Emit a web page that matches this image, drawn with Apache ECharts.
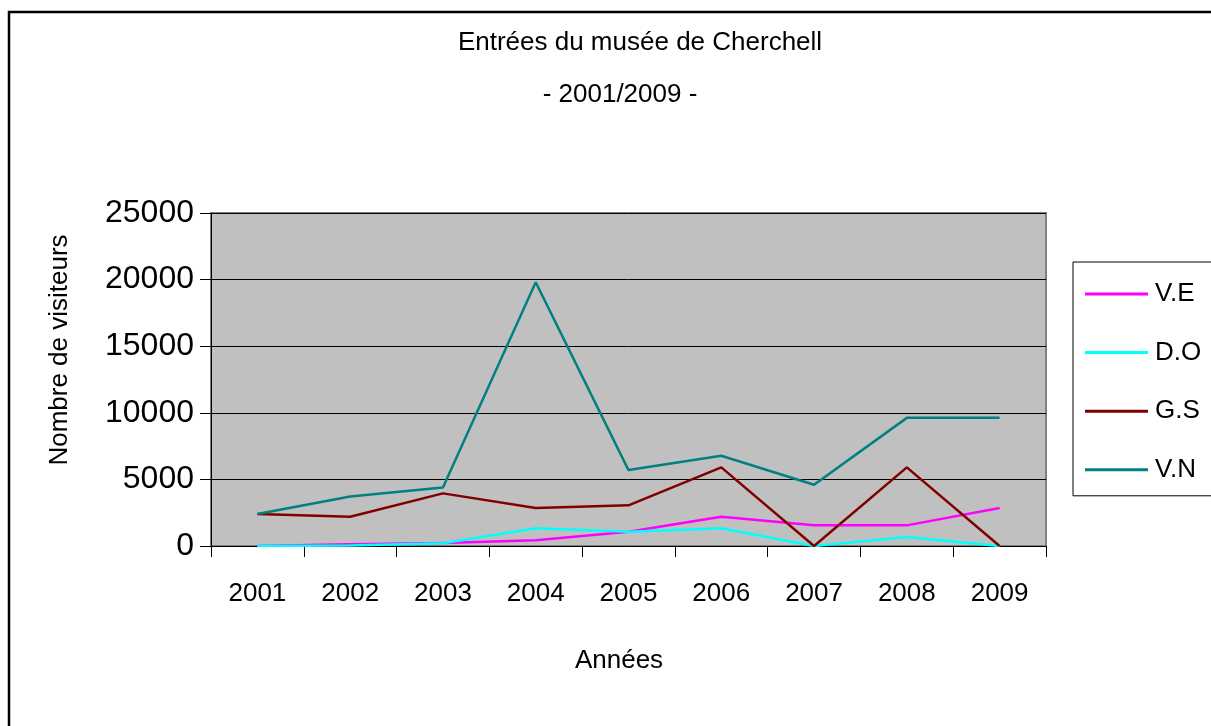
<!DOCTYPE html>
<html>
<head>
<meta charset="utf-8">
<script src="https://cdn.jsdelivr.net/npm/echarts@6/dist/echarts.min.js"></script>
<style>
  html, body { margin: 0; padding: 0; background: #fff; }
  #chart { width: 1211px; height: 726px; }
</style>
</head>
<body>
<div id="chart"></div>
<script>
const years = ['2001', '2002', '2003', '2004', '2005', '2006', '2007', '2008', '2009'];
const seriesNames = ['V.E', 'D.O', 'G.S', 'V.N'];
const colors = ['#ff00ff', '#00ffff', '#800000', '#008080'];
const valuesVE = [0, 130, 230, 430, 1070, 2200, 1550, 1550, 2850];
const valuesDO = [0, 30, 200, 1330, 1070, 1330, 0, 680, 0];
const valuesGS = [2400, 2200, 3950, 2850, 3050, 5900, 0, 5900, 0];
const valuesVN = [2400, 3720, 4400, 19800, 5700, 6780, 4600, 9620, 9620];
const allValues = [valuesVE, valuesDO, valuesGS, valuesVN];

const font = 'Liberation Sans, Arial, sans-serif';
const chart = echarts.init(document.getElementById('chart'));

chart.setOption({
  backgroundColor: '#fff',
  animation: false,
  textStyle: { fontFamily: font, color: '#000' },
  graphic: [
    {
      type: 'rect',
      shape: { x: 9, y: 12, width: 1400, height: 900 },
      style: { fill: 'none', stroke: '#000', lineWidth: 2.5 },
      silent: true
    },
    {
      type: 'text',
      x: 640, y: 43,
      style: { text: 'Entrées du musée de Cherchell', font: '26px ' + font, fill: '#000', align: 'center', verticalAlign: 'middle' }
    },
    {
      type: 'text',
      x: 620, y: 95,
      style: { text: '- 2001/2009 -', font: '26px ' + font, fill: '#000', align: 'center', verticalAlign: 'middle' }
    },
    {
      type: 'text',
      x: 60, y: 350,
      rotation: Math.PI / 2,
      style: { text: 'Nombre de visiteurs', font: '26px ' + font, fill: '#000', align: 'center', verticalAlign: 'middle' }
    },
    {
      type: 'text',
      x: 619, y: 661,
      style: { text: 'Années', font: '26px ' + font, fill: '#000', align: 'center', verticalAlign: 'middle' }
    }
  ],
  legend: {
    orient: 'vertical',
    left: 1073,
    top: 262,
    padding: [19, 50, 13, 12],
    itemGap: 32.6,
    itemWidth: 63,
    itemHeight: 3,
    icon: 'rect',
    backgroundColor: '#fff',
    borderColor: '#000',
    borderWidth: 1,
    data: seriesNames,
    textStyle: { fontSize: 26, lineHeight: 26, color: '#000', fontFamily: font, padding: [0, 0, 0, 2] }
  },
  grid: {
    left: 211,
    right: 165,
    top: 213,
    bottom: 180,
    show: true,
    backgroundColor: '#c0c0c0',
    borderColor: '#808080',
    borderWidth: 2
  },
  xAxis: {
    type: 'category',
    data: years,
    boundaryGap: true,
    axisLine: { lineStyle: { color: '#000', width: 1 } },
    axisTick: { show: true, length: 11, inside: false, lineStyle: { color: '#000' } },
    axisLabel: { fontSize: 26, color: '#000', margin: 35, fontFamily: font }
  },
  yAxis: {
    type: 'value',
    min: 0,
    max: 25000,
    interval: 5000,
    axisLine: { show: true, lineStyle: { color: '#000', width: 1 } },
    axisTick: { show: true, length: 11, lineStyle: { color: '#000' } },
    axisLabel: { fontSize: 32, color: '#000', margin: 17, fontFamily: font, formatter: v => String(v) },
    splitLine: { show: true, lineStyle: { color: '#000', width: 1 } }
  },
  series: seriesNames.map((name, i) => ({
    name: name,
    type: 'line',
    data: allValues[i],
    symbol: 'none',
    lineStyle: { color: colors[i], width: 2.5 },
    itemStyle: { color: colors[i] }
  }))
});
</script>
</body>
</html>
